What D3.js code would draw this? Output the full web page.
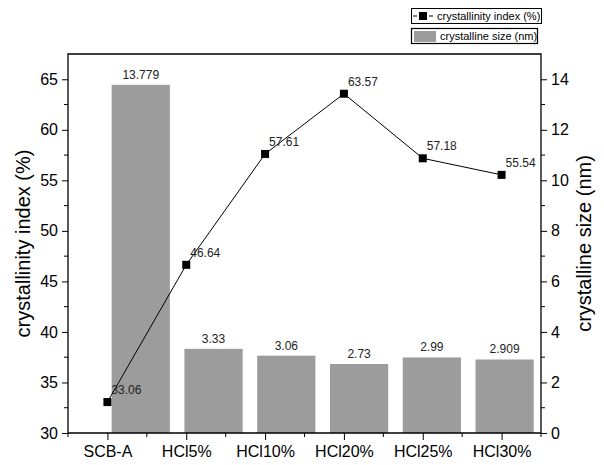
<!DOCTYPE html>
<html>
<head>
<meta charset="utf-8">
<script src="https://cdn.jsdelivr.net/npm/d3@7"></script>
<style>
  body { margin: 0; background: #fff; }
  svg { font-family: "Liberation Sans", Arial, sans-serif; }
</style>
</head>
<body>
<svg></svg>
<script>
var W = 604, H = 465;
var margin = {top: 54, left: 68, bottom: 32, right: 63};
var width = W - margin.left - margin.right;
var height = H - margin.top - margin.bottom;

var categories = ["SCB-A", "HCl5%", "HCl10%", "HCl20%", "HCl25%", "HCl30%"];
var crystallinity = [33.06, 46.64, 57.61, 63.57, 57.18, 55.54];
var crystalSize = [13.779, 3.33, 3.06, 2.73, 2.99, 2.909];
var sizeLabels = ["13.779", "3.33", "3.06", "2.73", "2.99", "2.909"];
var ciLabels = ["33.06", "46.64", "57.61", "63.57", "57.18", "55.54"];
var leftTicks = [30, 35, 40, 45, 50, 55, 60, 65];
var rightTicks = [0, 2, 4, 6, 8, 10, 12, 14];

var svg = d3.select("svg")
  .attr("width", W)
  .attr("height", H);

var g = svg.append("g")
  .attr("transform", "translate(" + margin.left + "," + margin.top + ")");

// scales
var x = d3.scaleLinear().domain([0.5, 6.5]).range([0, width]);
var xBar = d3.scaleLinear().domain([0, 6.5]).range([0, width]);
var barW = 0.8;
var yL = d3.scaleLinear().domain([30, 67.5]).range([height, 0]);
var yR = d3.scaleLinear().domain([0, 15]).range([height, 0]);

// bars
g.selectAll("rect.bar")
  .data(crystalSize)
  .enter().append("rect")
  .attr("class", "bar")
  .attr("x", function(d, i) { return xBar(i + 1 - barW / 2); })
  .attr("width", xBar(barW) - xBar(0))
  .attr("y", function(d) { return yR(d); })
  .attr("height", function(d) { return height - yR(d); })
  .attr("fill", "#9c9c9c");

g.selectAll("text.barlab")
  .data(crystalSize)
  .enter().append("text")
  .attr("class", "barlab")
  .attr("x", function(d, i) { return xBar(i + 1); })
  .attr("y", function(d) { return yR(d) - 6; })
  .attr("text-anchor", "middle")
  .attr("font-size", 12)
  .attr("fill", "#222")
  .text(function(d, i) { return sizeLabels[i]; });

// line + squares
g.append("path")
  .datum(crystallinity)
  .attr("fill", "none")
  .attr("stroke", "#000")
  .attr("stroke-width", 1)
  .attr("d", d3.line()
    .x(function(d, i) { return x(i + 1); })
    .y(function(d) { return yL(d); }));

g.selectAll("rect.pt")
  .data(crystallinity)
  .enter().append("rect")
  .attr("class", "pt")
  .attr("x", function(d, i) { return x(i + 1) - 4; })
  .attr("y", function(d) { return yL(d) - 4; })
  .attr("width", 8)
  .attr("height", 8)
  .attr("fill", "#000");

g.selectAll("text.ptlab")
  .data(crystallinity)
  .enter().append("text")
  .attr("class", "ptlab")
  .attr("x", function(d, i) { return x(i + 1) + 4; })
  .attr("y", function(d) { return yL(d) - 8; })
  .attr("font-size", 12)
  .attr("fill", "#222")
  .text(function(d, i) { return ciLabels[i]; });

// axes
function styleAxis(sel) {
  sel.select(".domain").remove();
  sel.selectAll("line").attr("stroke", "#000");
  sel.selectAll("text").attr("font-size", 16).attr("fill", "#000");
}

var xAxis = g.append("g")
  .attr("transform", "translate(0," + height + ")")
  .call(d3.axisBottom(x)
    .tickValues(d3.range(1, 7))
    .tickFormat(function(d) { return categories[d - 1]; })
    .tickSize(7).tickPadding(6));
styleAxis(xAxis);
xAxis.selectAll(".minor")
  .data(d3.range(0.5, 7, 1))
  .enter().append("line")
  .attr("class", "minor")
  .attr("x1", function(d) { return x(d); })
  .attr("x2", function(d) { return x(d); })
  .attr("y2", 4)
  .attr("stroke", "#000");

var yAxisL = g.append("g")
  .call(d3.axisLeft(yL).tickValues(leftTicks).tickSize(6).tickPadding(4));
styleAxis(yAxisL);
yAxisL.selectAll(".minor")
  .data(d3.range(32.5, 67.5, 5))
  .enter().append("line")
  .attr("class", "minor")
  .attr("y1", function(d) { return yL(d); })
  .attr("y2", function(d) { return yL(d); })
  .attr("x2", -4)
  .attr("stroke", "#000");

var yAxisR = g.append("g")
  .attr("transform", "translate(" + width + ",0)")
  .call(d3.axisRight(yR).tickValues(rightTicks).tickSize(6).tickPadding(4));
styleAxis(yAxisR);
yAxisR.selectAll(".minor")
  .data(d3.range(1, 15, 2))
  .enter().append("line")
  .attr("class", "minor")
  .attr("y1", function(d) { return yR(d); })
  .attr("y2", function(d) { return yR(d); })
  .attr("x2", 4)
  .attr("stroke", "#000");

// frame
g.append("path")
  .attr("d", "M0," + height + "V0H" + width + "V" + height + "Z")
  .attr("fill", "none")
  .attr("stroke", "#000")
  .attr("stroke-width", 1.3);

// axis titles
svg.append("text")
  .attr("transform", "translate(25," + (margin.top + height / 2) + ") rotate(-90)")
  .attr("text-anchor", "middle")
  .attr("dominant-baseline", "middle")
  .attr("font-size", 20)
  .text("crystallinity index (%)");

svg.append("text")
  .attr("transform", "translate(586," + (margin.top + height / 2) + ") rotate(-90)")
  .attr("text-anchor", "middle")
  .attr("dominant-baseline", "middle")
  .attr("font-size", 20)
  .text("crystalline size (nm)");

// legend
var leg = svg.append("g");
leg.append("rect")
  .attr("x", 411.5).attr("y", 8.5).attr("width", 130).attr("height", 15)
  .attr("fill", "#fff").attr("stroke", "#000");
leg.append("line")
  .attr("x1", 413).attr("x2", 417).attr("y1", 16).attr("y2", 16)
  .attr("stroke", "#000");
leg.append("line")
  .attr("x1", 429).attr("x2", 433).attr("y1", 16).attr("y2", 16)
  .attr("stroke", "#000");
leg.append("rect")
  .attr("x", 419).attr("y", 12).attr("width", 8).attr("height", 8)
  .attr("fill", "#000");
leg.append("text")
  .attr("x", 437).attr("y", 20)
  .attr("font-size", 11)
  .text("crystallinity index (%)");

leg.append("rect")
  .attr("x", 411.5).attr("y", 28.5).attr("width", 126).attr("height", 15)
  .attr("fill", "#fff").attr("stroke", "#000").attr("stroke-width", 1.2);
leg.append("rect")
  .attr("x", 414).attr("y", 31).attr("width", 22).attr("height", 11)
  .attr("fill", "#9c9c9c");
leg.append("text")
  .attr("x", 440).attr("y", 40)
  .attr("font-size", 11)
  .text("crystalline size (nm)");
</script>
</body>
</html>
